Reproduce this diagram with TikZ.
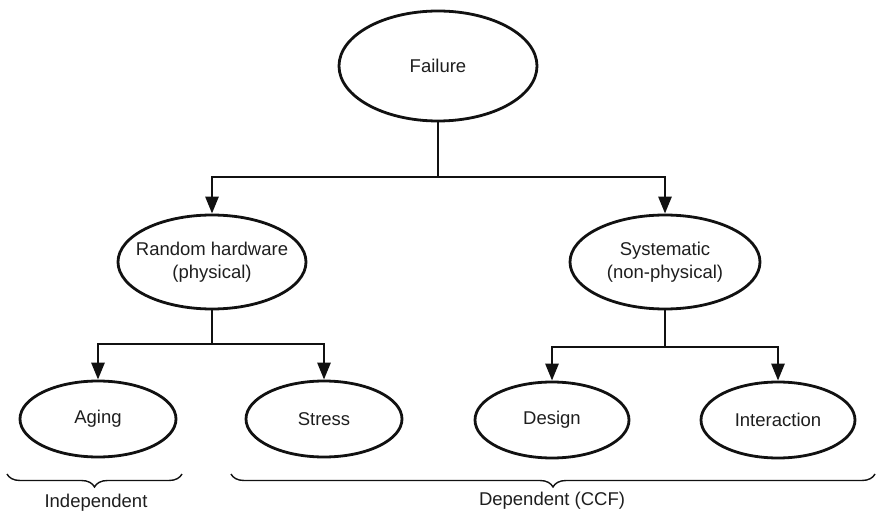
\documentclass[tikz,border=0pt]{standalone}
\usepackage{fontspec}
\setmainfont{Liberation Sans}
\usetikzlibrary{shapes.geometric,arrows.meta,decorations.pathreplacing}

\definecolor{ink}{HTML}{111111}
\definecolor{txt}{HTML}{1E1E1E}

\tikzset{
  oval/.style={ellipse, draw=ink, line width=2.8pt, inner sep=0pt,
    text=txt, font=\fontsize{18.5}{22.5}\selectfont, align=center},
  link/.style={draw=ink, line width=2.8pt},
  arr/.style={link, -{Triangle[length=17pt,width=13pt]}},
  grouping/.style={draw=ink, line width=1.4pt,
    decorate, decoration={brace, amplitude=13pt}},
  caption/.style={text=txt, font=\fontsize{18.5}{22.5}\selectfont, inner sep=0pt}
}

\begin{document}
\begin{tikzpicture}[x=1pt, y=-1pt]
  \useasboundingbox (0,0) rectangle (876,513);

  % nodes (the wide label is allowed to come close to its outline)
  \node[oval, minimum width=198pt, minimum height=110pt] (fail) at (438,66) {Failure};
  \node[oval, inner xsep=-16pt, minimum width=188pt, minimum height=94pt] (rand) at (212,262) {Random hardware\\(physical)};
  \node[oval, inner xsep=-8pt, minimum width=190pt, minimum height=94pt] (sys) at (665,262) {Systematic\\(non-physical)};
  \node[oval, minimum width=156pt, minimum height=76pt] (aging) at (98,419) {Aging};
  \node[oval, minimum width=156pt, minimum height=76pt] (stress) at (324,419) {Stress};
  \node[oval, minimum width=154pt, minimum height=76pt] (design) at (552,420) {Design};
  \node[oval, minimum width=154pt, minimum height=76pt] (inter) at (778,420) {Interaction};

  % branch points
  \coordinate (j1) at (438,177);
  \coordinate (j2) at (212,344);
  \coordinate (j3) at (665,347);

  % connectors
  \draw[link] (fail.south) -- (j1);
  \draw[arr] (j1) -| (rand.north);
  \draw[arr] (j1) -| (sys.north);

  \draw[link] (rand.south) -- (j2);
  \draw[arr] (j2) -| (aging.north);
  \draw[arr] (j2) -| (stress.north);

  \draw[link] (sys.south) -- (j3);
  \draw[arr] (j3) -| (design.north);
  \draw[arr] (j3) -| (inter.north);

  % groupings
  \coordinate (bl1) at (7,474);
  \coordinate (br1) at (182,474);
  \coordinate (bl2) at (231,474);
  \coordinate (br2) at (875,474);
  \draw[grouping] (br1) -- (bl1);
  \draw[grouping] (br2) -- (bl2);
  \node[caption] (indep) at (96,503) {Independent};
  \node[caption] (dep) at (552,501) {Dependent (CCF)};
\end{tikzpicture}
\end{document}
